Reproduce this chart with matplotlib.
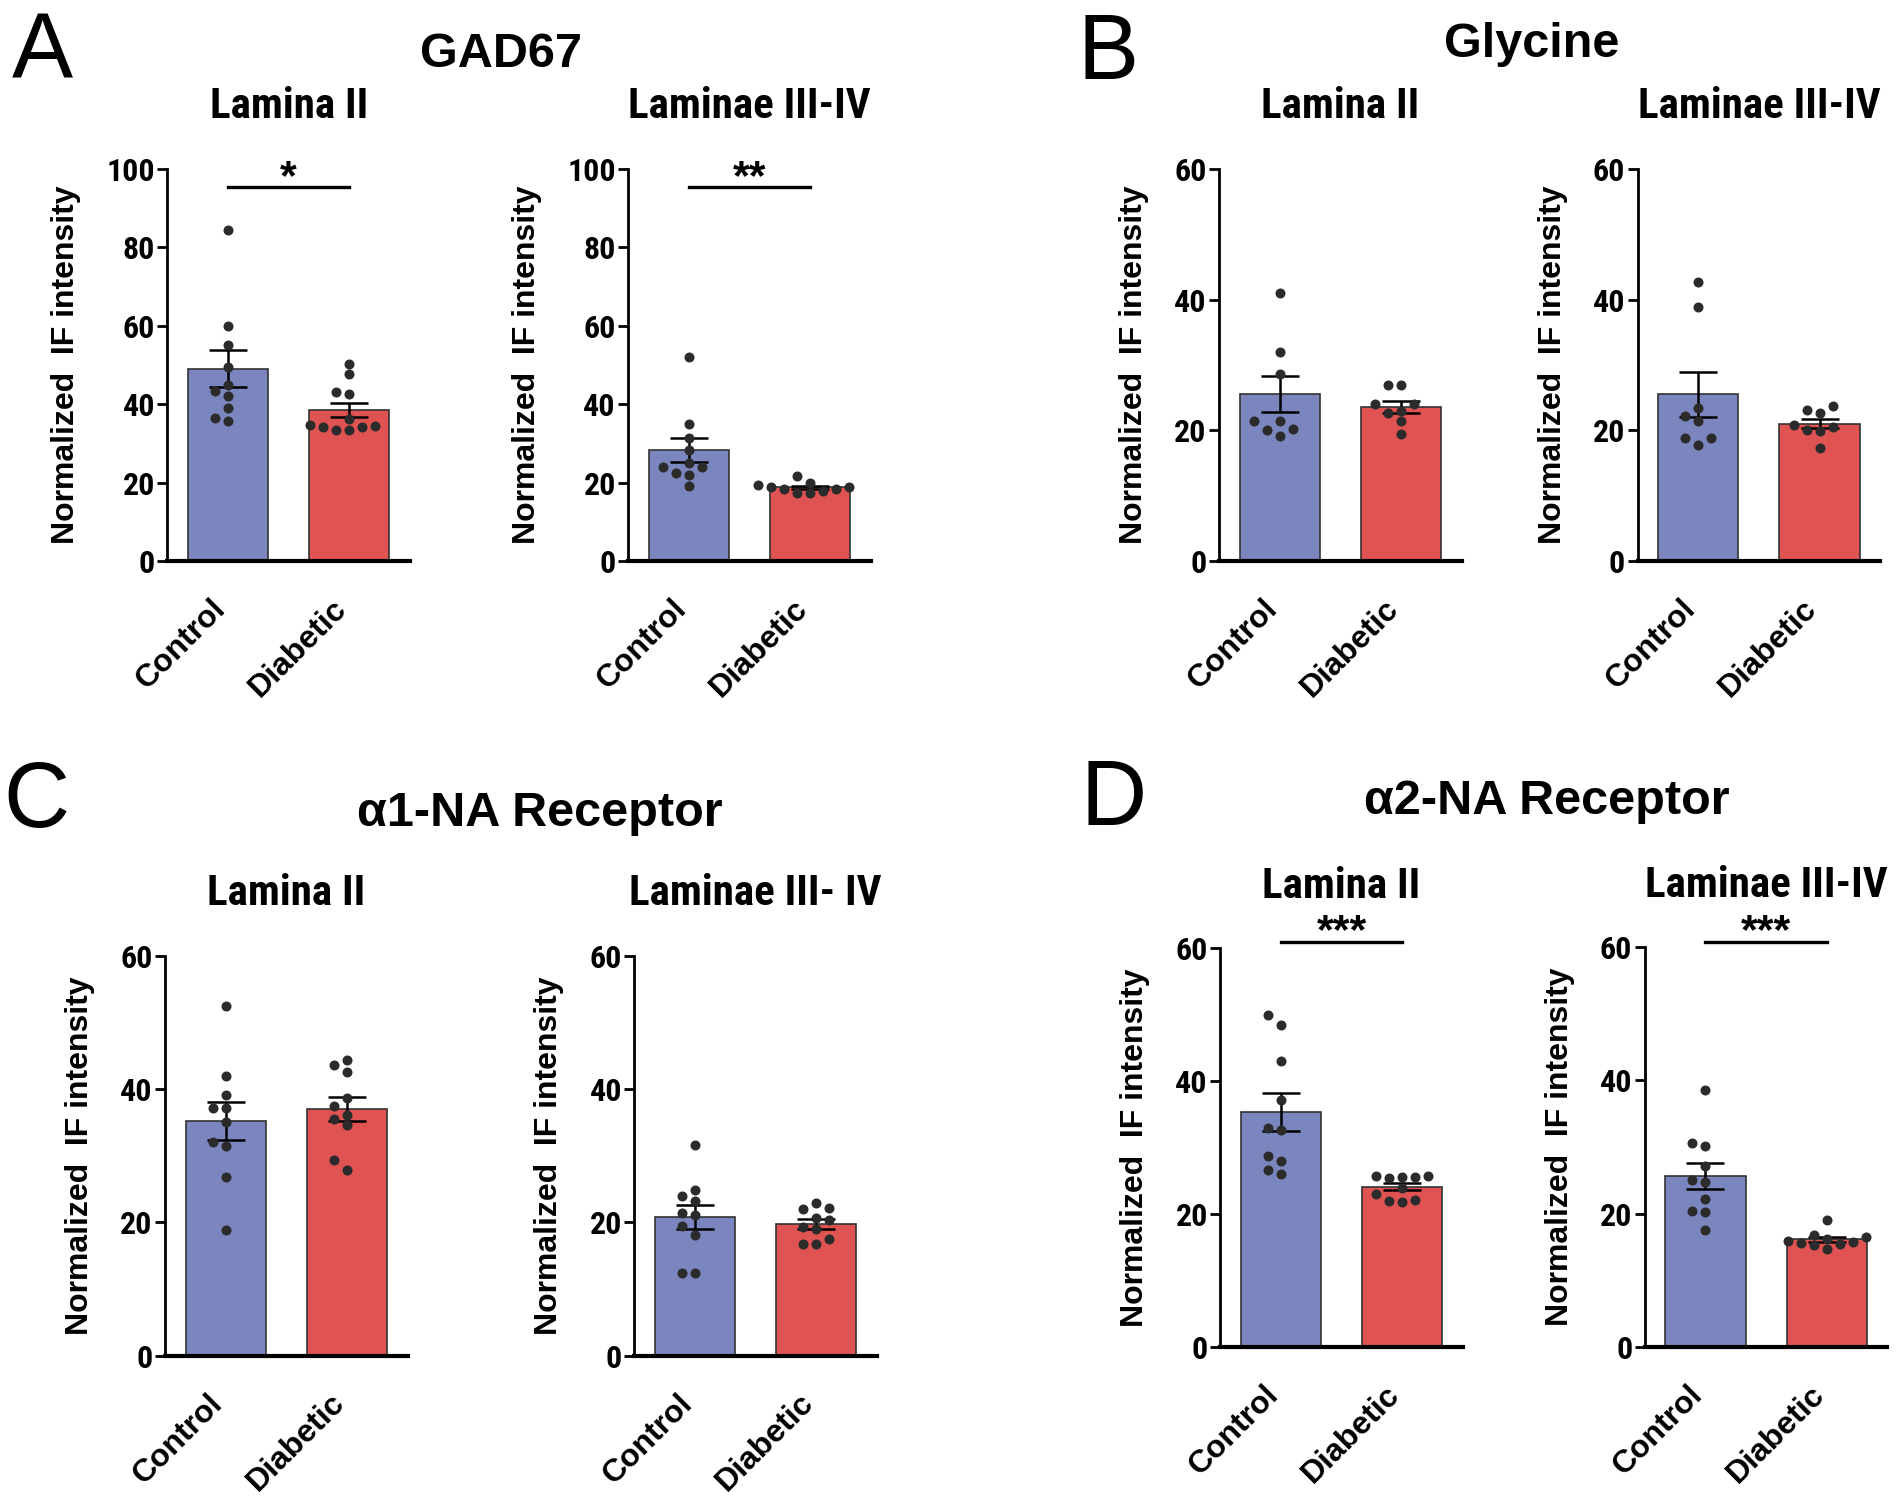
import numpy as np
import matplotlib
matplotlib.use("Agg")
from matplotlib import pyplot as plt
from matplotlib import font_manager
from matplotlib.transforms import ScaledTranslation

# ---- data ----
groups = ["Control", "Diabetic"]

gad_l2_ctrl = [84.4, 59.9, 55.1, 49.6, 45.0, 43.4, 42.2, 39.0, 36.4, 35.8]
gad_l2_diab = [50.3, 47.7, 43.2, 42.5, 36.2, 34.7, 34.5, 34.3, 34.1, 33.4, 33.4]
gad_l34_ctrl = [52.1, 35.0, 31.5, 28.3, 25.0, 24.0, 24.0, 22.5, 22.0, 19.2]
gad_l34_diab = [21.8, 20.0, 19.5, 19.0, 19.0, 18.5, 18.5, 18.0, 17.5, 17.3]

gly_l2_ctrl = [41.0, 32.0, 28.6, 21.5, 21.5, 20.3, 20.1, 19.2]
gly_l2_diab = [26.9, 26.9, 24.0, 24.0, 23.0, 22.7, 21.4, 19.5]
gly_l34_ctrl = [42.7, 38.8, 23.4, 22.2, 21.5, 18.9, 18.8, 17.8]
gly_l34_diab = [23.8, 23.2, 22.7, 20.8, 20.6, 20.0, 19.9, 17.4]

a1_l2_ctrl = [52.5, 41.9, 39.1, 37.1, 37.1, 35.0, 32.1, 31.5, 26.8, 18.9]
a1_l2_diab = [44.3, 43.6, 42.6, 38.6, 37.5, 36.1, 35.5, 34.6, 29.3, 27.9]
a1_l34_ctrl = [31.6, 24.8, 23.9, 23.2, 21.4, 21.1, 19.5, 18.1, 12.4, 12.4]
a1_l34_diab = [22.9, 22.1, 22.0, 20.7, 20.4, 19.3, 19.0, 17.5, 16.8, 16.8]

a2_l2_ctrl = [49.9, 48.5, 43.1, 37.2, 32.9, 32.6, 28.8, 28.0, 26.7, 26.0]
a2_l2_diab = [25.8, 25.8, 25.6, 25.6, 25.4, 24.0, 23.0, 22.2, 22.0, 21.8]
a2_l34_ctrl = [38.5, 30.6, 30.1, 27.2, 25.0, 24.7, 22.2, 20.4, 20.2, 17.5]
a2_l34_diab = [19.0, 16.8, 16.5, 16.3, 16.0, 15.8, 15.6, 15.5, 15.3, 14.8]

BLUE = "#7a86bd"
RED = "#e05353"
DOT = "#2b2b2b"

# use a condensed face for numbers / subtitles if one is installed
installed = {f.name for f in font_manager.fontManager.ttflist}
narrow_pick = [n for n in ["Liberation Sans Narrow", "Roboto Condensed",
                           "Arial Narrow", "DejaVu Sans Condensed"] if n in installed]
HAVE_NARROW = bool(narrow_pick)
NARROW = narrow_pick[:1] + ["Liberation Sans", "DejaVu Sans"]
SANS = ["Liberation Sans", "DejaVu Sans"]
SUB_SIZE = 31 if HAVE_NARROW else 27
TICK_SIZE = 23 if HAVE_NARROW else 20

FIG_W, FIG_H = 1902, 1500
fig = plt.figure(figsize=(FIG_W / 100, FIG_H / 100), dpi=100)

SX, SY = 1568.0, 1237.0   # coordinates measured on the reference, scaled


def swarm(vals, px_y, px_x, diam=10.0, step=13.0):
    # simple beeswarm: put each point at the first free column
    vals = np.asarray(vals, float)
    placed = []
    offs = np.zeros(len(vals))
    for i in np.argsort(vals):
        y = vals[i] * px_y
        for k in [0, -1, 1, -2, 2, -3, 3, -4, 4]:
            x = k * step
            if all(np.hypot(x - p, y - q) >= diam for p, q in placed):
                break
        placed.append((x, y))
        offs[i] = x / px_x
    return offs


def panel(left, top, bottom, ymax, ctrl, diab, sub, sig=None):
    w = 200 / SX
    ax = fig.add_axes([left / SX, 1 - bottom / SY, w, (bottom - top) / SY])
    ax.set_xlim(-0.5, 1.5)
    ax.set_ylim(0, ymax)
    px_x = w * FIG_W / 2.0
    px_y = (bottom - top) / SY * FIG_H / ymax
    for i, (vals, col) in enumerate([(ctrl, BLUE), (diab, RED)]):
        vals = np.asarray(vals)
        m = vals.mean()
        sem = vals.std(ddof=1) / np.sqrt(len(vals))
        ax.bar(i, m, width=0.66, color=col, edgecolor="#333333",
               linewidth=1.2, zorder=1)
        ax.errorbar(i, m, yerr=sem, color="black", elinewidth=1.8,
                    capsize=14, capthick=1.8, zorder=3)
        ax.scatter(i + swarm(vals, px_y, px_x), vals, s=52, color=DOT,
                   zorder=4, linewidths=0)
    ax.spines["top"].set_visible(False)
    ax.spines["right"].set_visible(False)
    ax.spines["left"].set_linewidth(2.0)
    ax.spines["bottom"].set_linewidth(3.0)
    ax.set_yticks(np.arange(0, ymax + 1, 20))
    ax.tick_params(axis="y", length=7, width=2, pad=2)
    ax.tick_params(axis="x", length=0, pad=31)
    ax.set_xticks([0, 1])
    ax.set_xticklabels(groups, rotation=45, ha="right", va="center",
                       rotation_mode="anchor", fontsize=23,
                       fontweight="bold", family=SANS)
    shift = ScaledTranslation(-5 / 72, 0, fig.dpi_scale_trans)
    for t in ax.get_xticklabels():
        t.set_transform(t.get_transform() + shift)
    for t in ax.get_yticklabels():
        t.set_fontsize(TICK_SIZE)
        t.set_fontweight("bold")
        t.set_family(NARROW)
    ax.set_ylabel("Normalized  IF intensity", fontsize=23, fontweight="bold",
                  family=SANS, labelpad=18)
    ax.text(0.5, 1 + 62 / ((bottom - top) * FIG_H / SY), sub,
            transform=ax.transAxes, ha="center", va="center",
            fontsize=SUB_SIZE, fontweight="bold", family=NARROW)
    if sig is not None:
        ly, sy, stars = sig
        ax.plot([0, 1], [ly, ly], color="black", lw=2.4, clip_on=False)
        ax.text(0.5, sy, stars, ha="center", va="center", fontsize=31,
                fontweight="bold", family=SANS, clip_on=False)
    return ax


# A: GAD67
panel(138, 139, 463, 100, gad_l2_ctrl, gad_l2_diab, "Lamina II", (95.4, 97.6, "*"))
panel(518, 139, 463, 100, gad_l34_ctrl, gad_l34_diab, "Laminae III-IV", (95.4, 97.6, "**"))
# B: Glycine
panel(1005, 139, 463, 60, gly_l2_ctrl, gly_l2_diab, "Lamina II")
panel(1350, 139, 463, 60, gly_l34_ctrl, gly_l34_diab, "Laminae III-IV")
# C: alpha1
panel(136, 788, 1118, 60, a1_l2_ctrl, a1_l2_diab, "Lamina II")
panel(523, 788, 1118, 60, a1_l34_ctrl, a1_l34_diab, "Laminae III- IV")
# D: alpha2
panel(1006, 782, 1111, 60, a2_l2_ctrl, a2_l2_diab, "Lamina II", (61.0, 62.5, "***"))
panel(1356, 781, 1111, 60, a2_l34_ctrl, a2_l34_diab, "Laminae III-IV", (60.8, 62.3, "***"))

# panel letters and main titles
for x, y, s in [(10, 65, "A"), (888, 65, "B"), (3, 682, "C"), (891, 680, "D")]:
    fig.text(x / SX, 1 - y / SY, s, fontsize=66, family=SANS,
             ha="left", va="baseline")
for x, y, s in [(413, 45, "GAD67"), (1263, 37, "Glycine"),
                (445, 671, "α1-NA Receptor"), (1275, 661, "α2-NA Receptor")]:
    fig.text(x / SX, 1 - y / SY, s, fontsize=35, fontweight="bold",
             family=SANS, ha="center", va="center")

fig.savefig("out.png", dpi=100)
